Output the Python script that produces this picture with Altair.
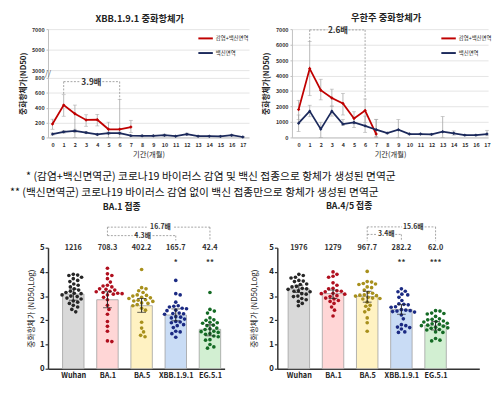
import json
import math
import altair as alt
import pandas as pd

FONT = "Noto Sans CJK KR"
G_INF = "감염+백신면역"
G_VAC = "백신면역"
RED = "#c00000"
NAVY = "#1c2a5c"
GREY = "#a6a6a6"

months = list(range(18))

# ---- XBB.1.9.1 neutralising titre (ND50) by month ----
xbb_inf = [180, 435, 318, 235, 238, 110, 110, 140]
xbb_inf_lo = [110, 285, 0, 150, 155, 0, 0, 65]
xbb_inf_hi = [245, 575, 435, 305, 310, 205, 510, 230]
xbb_vac = [45, 75, 88, 65, 40, 57, 57, 24, 22, 22, 30, 17, 43, 17, 17, 15, 30, 6]
xbb_vac_lo = [30, 58, 65, 52, 28, 42, 42, 16, 15, 15, 18, 10, 30, 10, 10, 8, 20, 2]
xbb_vac_hi = [62, 95, 110, 80, 55, 72, 72, 32, 30, 30, 45, 25, 58, 25, 27, 22, 42, 12]

# ---- Wuhan neutralising titre (ND50) by month ----
wu_inf = [1800, 4450, 3050, 2550, 2200, 1230, 1740, 220]
wu_inf_lo = [1150, 2700, 2430, 2020, 1450, 880, 950, 0]
wu_inf_hi = [2400, 6200, 3760, 3120, 2850, 1660, 2480, 1170]
wu_vac = [920, 1700, 540, 1700, 860, 970, 750, 500, 280, 500, 220, 220, 200, 370, 270, 150, 150, 220]
wu_vac_lo = [380, 1340, 0, 1380, 780, 640, 330, 60, 230, 0, 170, 170, 150, 0, 150, 110, 110, 110]
wu_vac_hi = [1450, 2080, 980, 2030, 1170, 1300, 1380, 1170, 330, 1160, 270, 270, 250, 1350, 420, 190, 190, 460]

# ---- bottom panels ----
variants = ["Wuhan", "BA.1", "BA.5", "XBB.1.9.1", "EG.5.1"]
bar_fill = ["#d9d9d9", "#ffd6d6", "#fff2c2", "#c9dcf5", "#d2efd2"]
dot_color = ["#262626", "#b00f1e", "#a8901c", "#1b2a83", "#156b25"]

ba1_gmt = [1216, 708.3, 402.2, 165.7, 42.4]
ba1_lab = ["1216", "708.3", "402.2", "165.7", "42.4"]
ba1_ci_lo = [2.83, 2.52, 2.33, 1.98, 1.36]
ba1_ci_hi = [3.29, 3.18, 2.90, 2.47, 1.82]
ba1_stars = ["", "", "", "*", "**"]
ba1_wuhan = [3.9, 3.87, 3.85, 3.78, 3.72, 3.65, 3.6, 3.5, 3.45, 3.38, 3.3, 3.25, 3.2, 3.15, 3.12, 3.1, 3.05, 3.0, 2.98, 2.92, 2.88, 2.8, 2.75, 2.7, 2.62, 2.55, 2.45, 2.35]
ba1_ba1 = [4.15, 3.92, 3.85, 3.72, 3.58, 3.45, 3.42, 3.38, 3.3, 3.28, 3.25, 3.2, 3.18, 3.15, 3.12, 3.1, 3.08, 3.05, 2.95, 2.85, 2.62, 2.45, 2.25, 1.95, 1.75, 1.55, 1.15, 1.12]
ba1_ba5 = [4.1, 3.35, 3.3, 3.22, 3.15, 3.05, 3.03, 3.0, 2.95, 2.93, 2.9, 2.85, 2.83, 2.8, 2.78, 2.72, 2.7, 2.65, 2.6, 2.5, 2.42, 1.92, 1.68, 1.52, 1.38, 1.32]
ba1_xbb = [3.65, 3.1, 3.05, 2.75, 2.6, 2.58, 2.55, 2.5, 2.48, 2.42, 2.4, 2.3, 2.28, 2.27, 2.25, 2.15, 2.13, 2.1, 2.05, 1.95, 1.93, 1.9, 1.82, 1.78, 1.7, 1.55, 1.52, 1.45, 1.3]
ba1_eg = [3.15, 2.45, 2.38, 2.3, 2.1, 2.02, 2.0, 1.92, 1.9, 1.88, 1.8, 1.78, 1.68, 1.65, 1.62, 1.55, 1.53, 1.5, 1.45, 1.42, 1.35, 1.32, 1.2, 1.18, 1.0, 0.9, 0.85]

ba45_gmt = [1976, 1279, 967.7, 282.2, 62.0]
ba45_lab = ["1976", "1279", "967.7", "282.2", "62.0"]
ba45_ci_lo = [3.15, 2.90, 2.75, 2.25, 1.60]
ba45_ci_hi = [3.45, 3.25, 3.20, 2.65, 1.95]
ba45_stars = ["", "", "", "**", "***"]
ba45_wuhan = [3.9, 3.85, 3.78, 3.75, 3.65, 3.62, 3.6, 3.5, 3.48, 3.4, 3.38, 3.32, 3.3, 3.28, 3.22, 3.2, 3.18, 3.1, 3.08, 3.0, 2.98, 2.9, 2.85, 2.78, 2.7, 2.6]
ba45_ba1 = [4.0, 3.9, 3.82, 3.78, 3.55, 3.45, 3.32, 3.3, 3.22, 3.2, 3.18, 3.12, 3.1, 3.08, 3.02, 2.98, 2.92, 2.88, 2.82, 2.78, 2.7, 2.55, 2.42, 2.18]
ba45_ba5 = [4.02, 3.6, 3.58, 3.52, 3.5, 3.48, 3.38, 3.35, 3.25, 3.15, 3.12, 3.05, 3.04, 3.02, 3.0, 2.95, 2.92, 2.9, 2.88, 2.75, 2.62, 2.58, 2.45, 2.35, 2.1, 1.9, 1.55]
ba45_xbb = [3.3, 3.2, 3.18, 3.08, 3.05, 2.95, 2.82, 2.68, 2.66, 2.64, 2.56, 2.54, 2.44, 2.42, 2.4, 2.38, 2.36, 2.34, 2.22, 2.06, 1.82, 1.78, 1.72, 1.7, 1.64, 1.52, 1.5]
ba45_eg = [2.4, 2.38, 2.3, 2.28, 2.26, 2.16, 2.06, 2.04, 2.02, 1.97, 1.95, 1.93, 1.88, 1.86, 1.84, 1.8, 1.78, 1.76, 1.71, 1.69, 1.67, 1.62, 1.6, 1.52, 1.5, 1.25, 1.18, 1.15]

footnote = [
    "\u200b\u3000\u2002* (감염+백신면역군) 코로나19 바이러스 감염 및 백신 접종으로 항체가 생성된 면역군",
    "** (백신면역군) 코로나19 바이러스 감염 없이 백신 접종만으로 항체가 생성된 면역군",
]

TOP_H = 111
BOT_H = 124


def top_panel(title, dx, inf, inf_lo, inf_hi, vac, vac_lo, vac_hi, yscale, yvals,
              xdom, width, br, ratio, legend_x, broken, y_title_x, y_min_ext):
    rows = []
    for m in range(len(inf)):
        rows.append({"m": m, "v": inf[m], "lo": inf_lo[m], "hi": inf_hi[m], "g": G_INF})
    for m in range(len(vac)):
        rows.append({"m": m, "v": vac[m], "lo": vac_lo[m], "hi": vac_hi[m], "g": G_VAC})
    df = pd.DataFrame(rows)
    xs = alt.Scale(domain=xdom, nice=False, zero=False)
    xax = alt.Axis(values=months, format="d", title="기간(개월)", labelFontSize=5.5,
                   labelFontWeight="bold", labelColor="#333", labelPadding=5, tickSize=0,
                   domainColor="#bfbfbf", titleFontSize=7.5, titleFontWeight="normal",
                   titleColor="#222", titlePadding=3, labelOverlap=False, labelFlush=False,
                   grid=False)
    yax = alt.Axis(values=yvals, format="d", title="중화항체가(ND50)", labelFontSize=5.5,
                   labelFontWeight="bold", labelColor="#333", labelPadding=2, tickSize=2,
                   tickColor="#bfbfbf", domainColor="#bfbfbf", gridColor="#e4e4e4", grid=True,
                   titleFontSize=8, titleFontWeight="bold", titleColor="#222",
                   titleX=y_title_x, titleY=TOP_H / 2, minExtent=y_min_ext,
                   labelOverlap=False, labelFlush=False)

    def X(f):
        return alt.X(f, scale=xs, axis=xax)

    def Y(f):
        return alt.Y(f, scale=yscale, axis=yax)

    cs = alt.Scale(domain=[G_INF, G_VAC], range=[RED, NAVY])
    leg = alt.Legend(orient="none", legendX=legend_x, legendY=1, title=None, direction="vertical",
                     symbolType="stroke", symbolStrokeWidth=2, symbolSize=220,
                     labelFontSize=5.5, labelColor="#222", rowPadding=2, padding=0,
                     labelOffset=2)
    base = alt.Chart(df)
    err = base.mark_rule(color=GREY, strokeWidth=0.8).encode(x=X("m:Q"), y=Y("lo:Q"), y2="hi:Q")
    cap_lo = base.mark_tick(color=GREY, orient="horizontal", size=4, thickness=0.8).encode(
        x=X("m:Q"), y=Y("lo:Q"))
    cap_hi = base.mark_tick(color=GREY, orient="horizontal", size=4, thickness=0.8).encode(
        x=X("m:Q"), y=Y("hi:Q"))
    line = base.mark_line(strokeWidth=1.8).encode(
        x=X("m:Q"), y=Y("v:Q"), color=alt.Color("g:N", scale=cs, legend=leg), order="m:Q")
    pts = base.mark_point(filled=True, shape="diamond", size=12, opacity=1).encode(
        x=X("m:Q"), y=Y("v:Q"), fill=alt.Fill("g:N", scale=cs, legend=None))

    b = br
    brdf = pd.DataFrame([
        {"x": b["x1"], "x2": b["g1"], "y": b["y"], "y2": b["y"]},
        {"x": b["g2"], "x2": b["x2"], "y": b["y"], "y2": b["y"]},
        {"x": b["x1"], "x2": b["x1"], "y": b["y"], "y2": b["e1"]},
        {"x": b["x2"], "x2": b["x2"], "y": b["y"], "y2": b["e2"]},
    ])
    brr = alt.Chart(brdf).mark_rule(color="#8c8c8c", strokeWidth=0.8, strokeDash=[2, 1.5]).encode(
        x=X("x:Q"), x2="x2:Q", y=Y("y:Q"), y2="y2:Q")
    brt = alt.Chart(pd.DataFrame({"x": [(b["g1"] + b["g2"]) / 2], "y": [b["y"]], "t": [ratio]})).mark_text(
        fontSize=8.5, fontWeight="bold", color="#333").encode(x=X("x:Q"), y=Y("y:Q"), text="t:N")
    layers = [err, cap_lo, cap_hi, line, pts, brr, brt]
    if broken:
        bk = alt.Chart(pd.DataFrame({"x": [xdom[0]], "y": [1900], "t": ["//"]})).mark_text(
            fontSize=8, color="#555").encode(x=X("x:Q"), y=Y("y:Q"), text="t:N")
        layers.append(bk)
    return alt.layer(*layers).properties(
        width=width, height=TOP_H,
        title=alt.TitleParams(title, fontSize=9.5, fontWeight="bold", color="#222",
                              anchor="middle", frame="group", offset=4, dx=dx))


def swarm(vals, ppu_y=24.8, ppu_x=35.0, d=4.4):
    order = sorted(range(len(vals)), key=lambda i: -vals[i])
    cands = [0.0]
    for k in range(1, 60):
        cands += [k * 0.5, -k * 0.5]
    placed = []
    offs = [0.0] * len(vals)
    for i in order:
        y = vals[i] * ppu_y
        for c in cands:
            if all((c - px) ** 2 + (y - py) ** 2 >= d * d for px, py in placed):
                break
        placed.append((c, y))
        offs[i] = c / ppu_x
    return offs


BAR_HALF = 0.314
label_expr = json.dumps(variants) + "[datum.value]"


def bottom_panel(title, dx, gmt, labs, ci_lo, ci_hi, stars, dots, xdom, width,
                 brackets, y_title_x, y_min_ext):
    bars = pd.DataFrame({"i": list(range(5)), "name": variants,
                         "v": [math.log10(g) for g in gmt], "lo": ci_lo, "hi": ci_hi,
                         "lab": labs, "star": stars})
    bars["xl"] = bars["i"] - BAR_HALF
    bars["xr"] = bars["i"] + BAR_HALF
    bars["base"] = 0.0
    bars["labY"] = 5.0
    bars["starY"] = 4.35
    rows = []
    for i, vals in enumerate(dots):
        offs = swarm(vals)
        for v, o in zip(vals, offs):
            rows.append({"x": i + o, "v": v, "name": variants[i]})
    ddf = pd.DataFrame(rows)

    xs = alt.Scale(domain=xdom, nice=False, zero=False)
    ys = alt.Scale(domain=[0, 5], nice=False)
    xax = alt.Axis(values=list(range(5)), labelExpr=label_expr, title=None, labelFontSize=7.5,
                   labelFontWeight="bold", labelColor="#222", tickSize=0, labelPadding=3,
                   domainColor="#333", domainWidth=1.5, grid=False, labelOverlap=False,
                   labelFlush=False)
    yax = alt.Axis(values=[0, 1, 2, 3, 4, 5], title="중화항체가 (ND50,Log)", labelFontSize=8,
                   labelFontWeight="bold", labelColor="#222", tickSize=3, tickColor="#333",
                   tickWidth=1.2, domainColor="#333", domainWidth=1.5, labelPadding=1,
                   titleFontSize=8, titleFontWeight="normal", titleColor="#222",
                   titleX=y_title_x, titleY=BOT_H / 2, minExtent=y_min_ext, grid=False)

    def X(f):
        return alt.X(f, scale=xs, axis=xax)

    def Y(f):
        return alt.Y(f, scale=ys, axis=yax)

    fill_s = alt.Scale(domain=variants, range=bar_fill)
    dot_s = alt.Scale(domain=variants, range=dot_color)
    bb = alt.Chart(bars)
    bar = bb.mark_bar(stroke="#a0a0a0", strokeWidth=0.8).encode(
        x=X("xl:Q"), x2="xr:Q", y=Y("base:Q"), y2="v:Q",
        fill=alt.Fill("name:N", scale=fill_s, legend=None))
    dot = alt.Chart(ddf).mark_circle(size=14, opacity=1).encode(
        x=X("x:Q"), y=Y("v:Q"), color=alt.Color("name:N", scale=dot_s, legend=None))
    eb = bb.mark_rule(color="#222", strokeWidth=1).encode(x=X("i:Q"), y=Y("lo:Q"), y2="hi:Q")
    ebl = bb.mark_tick(color="#222", orient="horizontal", size=9, thickness=1).encode(
        x=X("i:Q"), y=Y("lo:Q"))
    ebh = bb.mark_tick(color="#222", orient="horizontal", size=9, thickness=1).encode(
        x=X("i:Q"), y=Y("hi:Q"))
    lab = bb.mark_text(fontSize=7.5, fontWeight="bold", color="#333").encode(
        x=X("i:Q"), y=Y("labY:Q"), text="lab:N")
    st = bb.mark_text(fontSize=8, fontWeight="bold", color="#333").encode(
        x=X("i:Q"), y=Y("starY:Q"), text="star:N")

    rrows, trows = [], []
    for b in brackets:
        rrows += [
            {"x": b["x1"], "x2": b["g1"], "y": b["y"], "y2": b["y"]},
            {"x": b["g2"], "x2": b["x2"], "y": b["y"], "y2": b["y"]},
            {"x": b["x1"], "x2": b["x1"], "y": b["y"], "y2": b["e1"]},
            {"x": b["x2"], "x2": b["x2"], "y": b["y"], "y2": b["e2"]},
        ]
        trows.append({"x": (b["g1"] + b["g2"]) / 2, "y": b["y"], "t": b["t"]})
    brr = alt.Chart(pd.DataFrame(rrows)).mark_rule(
        color="#8c8c8c", strokeWidth=0.8, strokeDash=[2, 1.5]).encode(
        x=X("x:Q"), x2="x2:Q", y=Y("y:Q"), y2="y2:Q")
    brt = alt.Chart(pd.DataFrame(trows)).mark_text(
        fontSize=7, fontWeight="bold", color="#333").encode(x=X("x:Q"), y=Y("y:Q"), text="t:N")
    return alt.layer(bar, dot, eb, ebl, ebh, lab, st, brr, brt).properties(
        width=width, height=BOT_H,
        title=alt.TitleParams(title, fontSize=9, fontWeight="bold", color="#222",
                              anchor="middle", frame="group", offset=12, dx=dx))


tl = top_panel("XBB.1.9.1 중화항체가", -9, xbb_inf, xbb_inf_lo, xbb_inf_hi, xbb_vac, xbb_vac_lo,
               xbb_vac_hi,
               alt.Scale(domain=[0, 800, 3000, 7000], range=[TOP_H, 50, 42, 0], nice=False, zero=False),
               [0, 200, 400, 600, 800, 3000, 5000, 7000], [-0.4, 17.55], 206,
               {"x1": 1, "x2": 6, "g1": 2.5, "g2": 4.45, "y": 750, "e1": 580, "e2": 510},
               "3.9배", 153, True, -21, 28)
tr = top_panel("우한주 중화항체가", -4, wu_inf, wu_inf_lo, wu_inf_hi, wu_vac, wu_vac_lo, wu_vac_hi,
               alt.Scale(domain=[0, 7000], nice=False, zero=True),
               [0, 1000, 2000, 3000, 4000, 5000, 6000, 7000], [-0.6, 17.1], 201,
               {"x1": 1, "x2": 6, "g1": 2.6, "g2": 4.5, "y": 6950, "e1": 6200, "e2": 2480},
               "2.6배", 152, False, -22, 30)

bl = bottom_panel("BA.1 접종", -15, ba1_gmt, ba1_lab, ba1_ci_lo, ba1_ci_hi, ba1_stars,
                  [ba1_wuhan, ba1_ba1, ba1_ba5, ba1_xbb, ba1_eg], [-0.74, 4.43], 181,
                  [{"x1": 1, "x2": 4, "g1": 2.15, "g2": 2.95, "y": 5.85, "e1": 5.5, "e2": 5.3, "t": "16.7배"},
                   {"x1": 1, "x2": 3, "g1": 1.74, "g2": 2.32, "y": 5.5, "e1": 5.5, "e2": 5.3, "t": "4.3배"}],
                  -13, 39)
br = bottom_panel("BA.4/5 접종", -30, ba45_gmt, ba45_lab, ba45_ci_lo, ba45_ci_hi, ba45_stars,
                  [ba45_wuhan, ba45_ba1, ba45_ba5, ba45_xbb, ba45_eg], [-0.63, 5.28], 207,
                  [{"x1": 2, "x2": 4, "g1": 3.02, "g2": 3.68, "y": 5.86, "e1": 5.27, "e2": 5.27, "t": "15.6배"},
                   {"x1": 2, "x2": 3, "g1": 2.3, "g2": 2.82, "y": 5.55, "e1": 5.55, "e2": 5.27, "t": "3.4배"}],
                  -19, 27)

top = alt.hconcat(tl, tr, spacing=14).resolve_scale(color="independent", fill="independent")
bottom = alt.hconcat(bl, br, spacing=26).properties(
    title=alt.TitleParams(footnote, anchor="start", fontSize=11, fontWeight="normal",
                          color="#111", lineHeight=16, offset=5)
).resolve_scale(color="independent", fill="independent")

chart = alt.vconcat(top, bottom, spacing=13).properties(
    padding={"left": 2, "top": 0, "right": 0, "bottom": 0}).resolve_scale(
    color="independent", fill="independent").configure(
    font=FONT).configure_view(stroke=None)

chart.save("out.html", embed_options={"renderer": "svg", "actions": False})
